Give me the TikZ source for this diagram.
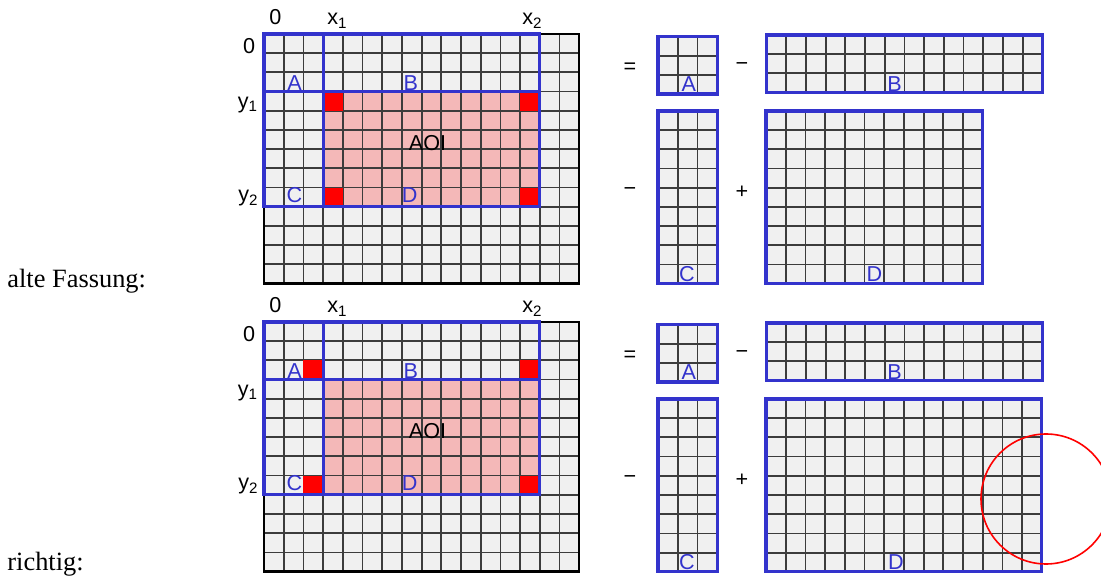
\documentclass[tikz,border=0pt]{standalone}
\usepackage{fontspec}
\setmainfont{Liberation Serif}
\setsansfont{Liberation Sans}
\usetikzlibrary{positioning}
\definecolor{cellgray}{RGB}{240,240,240}
\definecolor{gridgray}{RGB}{60,60,60}
\definecolor{regionblue}{RGB}{51,51,204}
\definecolor{aoipink}{RGB}{244,184,184}
\definecolor{cornerred}{RGB}{255,0,0}
\tikzset{
  gridline/.style={gridgray,line width=0.9pt},
  regionline/.style={regionblue,line width=1.6pt},
  lbl/.style={font=\sffamily\fontsize{10.8}{13}\selectfont,inner sep=0pt},
  regionlbl/.style={lbl,regionblue,anchor=base},
  caption/.style={font=\fontsize{13.2}{15}\selectfont,inner sep=0pt,anchor=base west},
}
% small block: x, y, columns, rows, node name, label, label column, label row
\newcommand{\cellblock}[8]{%
  \begin{scope}[shift={(#1,#2)},xscale=19.7,yscale=19.2]
    \fill[cellgray] (0,0) rectangle (#3,#4);
    \foreach \c in {0,...,#3} \draw[gridline] (\c,0) -- (\c,#4);
    \foreach \r in {0,...,#4} \draw[gridline] (0,\r) -- (#3,\r);
    \draw[regionline] (0,0) rectangle (#3,#4);
    \node[regionlbl] (#5) at (#7,#8) {#6};
  \end{scope}}

\begin{document}
\begin{tikzpicture}[x=0.5pt,y=-0.5pt]
  \useasboundingbox (0,0) rectangle (1101,581);
  \node[caption] (old) at (7,288) {alte Fassung:};
  \node[caption] (right) at (7,570) {richtig:};
  % top: old version, bottom: correct version
  \foreach \oy/\rc/\dc/\dl in {0/3/11/5.5,288/2/14/6.6}{
    \begin{scope}[shift={(0,\oy)}]
      \begin{scope}[shift={(264,34)},xscale=19.7,yscale=19.2]
        \fill[cellgray] (0,0) rectangle (16,13);
        \fill[aoipink] (3,3) rectangle (14,9);
        \foreach \c in {0,...,16} \draw[gridline] (\c,0) -- (\c,13);
        \foreach \r in {0,...,13} \draw[gridline] (0,\r) -- (16,\r);
        \foreach \cx/\cy in {\rc/\rc,13/\rc,\rc/8,13/8}
          \fill[cornerred] (\cx,\cy) rectangle ++(1,1);
        \draw[black,line width=1.2pt] (0,0) rectangle (16,13);
        \draw[regionline] (0,0) rectangle (3,3);
        \draw[regionline] (0,0) rectangle (14,3);
        \draw[regionline] (0,0) rectangle (3,9);
        \draw[regionline] (0,0) rectangle (14,9);
        \node[regionlbl] (A\oy) at (1.55,2.92) {A};
        \node[regionlbl] (B\oy) at (7.45,2.92) {B};
        \node[regionlbl] (C\oy) at (1.55,8.8) {C};
        \node[regionlbl] (D\oy) at (7.4,8.8) {D};
        \node[lbl] (aoi\oy) at (8.3,5.7) {AOI};
      \end{scope}
      \node[lbl,anchor=base] (zeroX\oy) at (275.5,25) {0};
      \node[lbl,anchor=base west] (xone\oy) at (327,25) {x\textsubscript{1}};
      \node[lbl,anchor=base west] (xtwo\oy) at (522,25) {x\textsubscript{2}};
      \node[lbl,anchor=base east] (zeroY\oy) at (255.5,54) {0};
      \node[lbl,anchor=base east] (yone\oy) at (258.5,108.5) {y\textsubscript{1}};
      \node[lbl,anchor=base east] (ytwo\oy) at (259,202) {y\textsubscript{2}};
      \node[lbl] (eq\oy) at (630,68) {=};
      \node[lbl] (minusB\oy) at (742,67) {−};
      \node[lbl] (minusC\oy) at (630,192) {−};
      \node[lbl] (plusD\oy) at (742,192) {+};
      \cellblock{658}{36.5}{3}{3}{boxA\oy}{A}{1.57}{2.85}
      \cellblock{766.5}{35}{14}{3}{boxB\oy}{B}{6.5}{2.95}
      \cellblock{658}{111}{3}{9}{boxC\oy}{C}{1.47}{8.89}
      \cellblock{766}{111}{\dc}{9}{boxD\oy}{D}{\dl}{8.89}
    \end{scope}
  }
  \draw[cornerred,line width=0.8pt] (1046,499) circle[radius=32.5pt];
\end{tikzpicture}
\end{document}
